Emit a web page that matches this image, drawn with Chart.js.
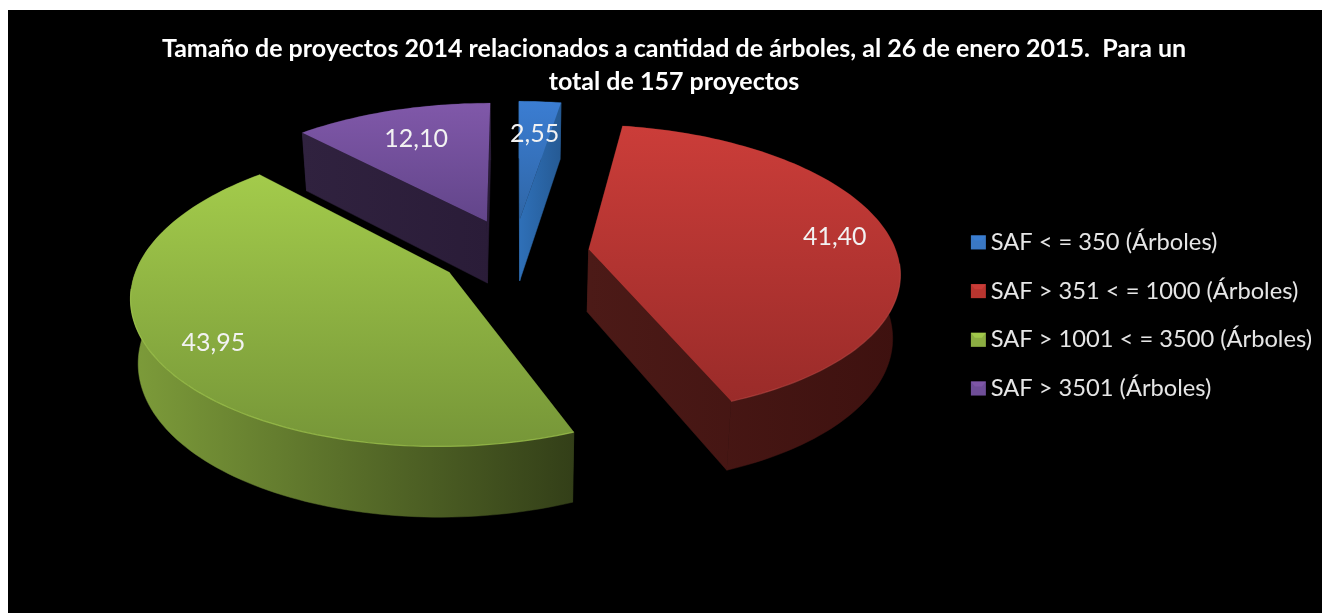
<!DOCTYPE html>
<html><head><meta charset="utf-8">
<style>html,body{margin:0;padding:0;background:#fff;overflow:hidden}
#w{position:absolute;left:8px;top:10px;width:1314px;height:603px;background:#000}</style>
<script src="https://cdn.jsdelivr.net/npm/chart.js@4"></script>
</head><body><div id="w"><canvas id="c" width="1314" height="603"></canvas></div>
<script>
const categories = ['SAF < = 350 (Árboles)','SAF > 351 < = 1000 (Árboles)','SAF > 1001 < = 3500 (Árboles)','SAF > 3501 (Árboles)'];
const values = [2.55, 41.40, 43.95, 12.10];
const titleLines = ['Tamaño de proyectos 2014 relacionados a cantidad de árboles, al 26 de enero 2015.  Para un','total de 157 proyectos'];
const baseColors = ['#3a78c4','#b9352f','#8cae42','#6f4e98'];
const topFrom = ['#3b7dd2','#cb3d39','#a3cb4b','#8058a9'];
const topTo   = ['#2f66a6','#9a2b29','#769638','#62458a'];
const wallFrom = ['#2f70b8','#4c1a17','#7d9c3a','#30223f'];
const wallTo   = ['#255a94','#3e110f','#333f18','#2a1c38'];
const rimColors = ['rgba(90,150,225,.5)','rgba(200,80,76,.5)','rgba(164,202,80,.7)','rgba(138,102,180,.5)'];
const labelReach = [0.70, 0.82, 0.82, 0.72];

// perspective of the pie plane (canvas pixels)
const CX = 506, CY = 243, FX = 308, FY = 143.4, PERSP = 0.142, EXPLODE = 0.245;
const project = (X, Y) => { const w = 1 - PERSP * Y; return [CX + FX * X / w, CY + FY * Y / w]; };
const drop = ([x, y]) => [x - 0.02 * (x - CX), y + 57 + (y - 94) * 0.04];

function slicePts(arc) {
  const {startAngle: a0, endAngle: a1} = arc.getProps(['startAngle','endAngle'], true);
  const mid = (a0 + a1) / 2, ox = Math.cos(mid) * EXPLODE, oy = Math.sin(mid) * EXPLODE;
  const rim = [], n = Math.max(8, Math.ceil((a1 - a0) * 40));
  for (let i = 0; i <= n; i++) {
    const a = a0 + (a1 - a0) * i / n;
    rim.push(project(ox + Math.cos(a), oy + Math.sin(a)));
  }
  return {rim, tip: project(ox, oy), mid, ox, oy};
}
function poly(ctx, pts) {
  ctx.beginPath();
  pts.forEach((p, i) => i ? ctx.lineTo(p[0], p[1]) : ctx.moveTo(p[0], p[1]));
  ctx.closePath();
}
const pie3d = {
  id: 'pie3d',
  beforeDatasetsDraw(chart) {
    const ctx = chart.ctx, arcs = chart.getDatasetMeta(0).data;
    const shapes = arcs.map(slicePts);
    const order = arcs.map((_, i) => i).sort((a, b) => shapes[a].oy - shapes[b].oy);
    ctx.save();
    order.forEach(i => {
      const s = shapes[i], xs = s.rim.map(p => p[0]).concat(s.tip[0]), ys = s.rim.map(p => p[1]).concat(s.tip[1]);
      const x0 = Math.min(...xs), x1 = Math.max(...xs), y0 = Math.min(...ys), y1 = Math.max(...ys);
      const wg = ctx.createLinearGradient(x0, 0, x1, 0);
      wg.addColorStop(0, wallFrom[i]); wg.addColorStop(1, wallTo[i]);
      ctx.fillStyle = wg; ctx.strokeStyle = wg; ctx.lineWidth = 0.5;
      const first = s.rim[0], last = s.rim[s.rim.length - 1];
      [[s.tip, first, drop(first), drop(s.tip)], [s.tip, last, drop(last), drop(s.tip)],
       s.rim.concat(s.rim.slice().reverse().map(drop))].forEach(f => { poly(ctx, f); ctx.fill(); ctx.stroke(); });
      const tg = ctx.createLinearGradient(0, y0, 0, y1);
      tg.addColorStop(0, topFrom[i]); tg.addColorStop(1, topTo[i]);
      ctx.fillStyle = tg;
      poly(ctx, [s.tip].concat(s.rim)); ctx.fill();
      // soft bevel on the front of the rim
      ctx.beginPath();
      let on = false;
      s.rim.forEach((p, k) => {
        const a = k / (s.rim.length - 1);
        const ang = arcs[i].startAngle + (arcs[i].endAngle - arcs[i].startAngle) * a;
        if (Math.sin(ang) > 0.1) { on ? ctx.lineTo(p[0], p[1]) : ctx.moveTo(p[0], p[1]); on = true; }
      });
      if (on) { ctx.strokeStyle = rimColors[i]; ctx.lineWidth = 1.2; ctx.stroke(); }
    });
    ctx.restore();
    return false;
  },
  afterDraw(chart) {
    const ctx = chart.ctx, arcs = chart.getDatasetMeta(0).data;
    ctx.save();
    ctx.font = '25px Lato'; ctx.fillStyle = '#f2f2f2'; ctx.textAlign = 'center'; ctx.textBaseline = 'middle';
    arcs.forEach((arc, i) => {
      const s = slicePts(arc), r = labelReach[i];
      const p = project(s.ox + Math.cos(s.mid) * r, s.oy + Math.sin(s.mid) * r);
      ctx.fillText(values[i].toFixed(2).replace('.', ','), p[0], p[1]);
    });
    // bevelled legend keys
    chart.legend.legendHitBoxes.forEach((b, i) => {
      const x = b.left, y = b.top + b.height / 2 - 7, w = 15, h = 14;
      ctx.fillStyle = baseColors[i]; ctx.fillRect(x, y, w, h);
      ctx.fillStyle = topFrom[i]; ctx.globalAlpha = 0.9;
      ctx.beginPath(); ctx.moveTo(x, y); ctx.lineTo(x + w, y); ctx.lineTo(x + w - 4, y + 5); ctx.lineTo(x + 4, y + 5); ctx.closePath(); ctx.fill();
      ctx.globalAlpha = 1;
    });
    ctx.restore();
  }
};
new Chart(document.getElementById('c'), {
  type: 'pie',
  data: { labels: categories, datasets: [{ data: values, backgroundColor: baseColors, borderWidth: 0 }] },
  options: {
    responsive: false, animation: false,
    layout: { padding: { left: 18, right: 0, top: 0, bottom: -8 } },
    plugins: {
      tooltip: { enabled: false },
      title: { display: true, text: titleLines, color: '#ffffff', font: { family: 'Lato', size: 25, weight: 'bold', lineHeight: 1.32 }, padding: { top: 22, bottom: 26 } },
      legend: {
        position: 'right',
        labels: {
          color: '#e6e6e6', font: { family: 'Lato', size: 23.7 }, boxWidth: 8, boxHeight: 14, padding: 25,
          generateLabels: chart => chart.data.labels.map((t, i) => ({ text: t, fillStyle: 'rgba(0,0,0,0)', strokeStyle: 'rgba(0,0,0,0)', lineWidth: 0, index: i, fontColor: '#e6e6e6' }))
        }
      }
    }
  },
  plugins: [pie3d]
});
</script></body></html>
